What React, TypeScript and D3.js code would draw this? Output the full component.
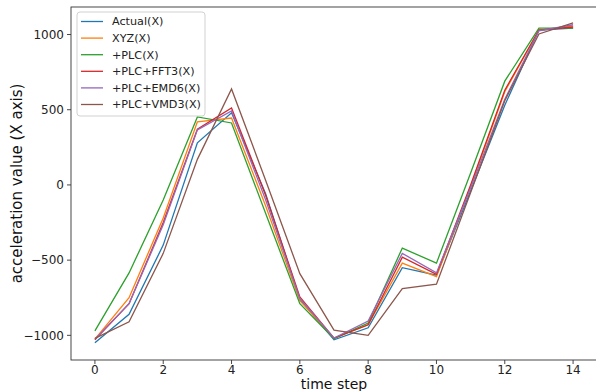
import React from 'react';
import * as d3 from 'd3';

const steps = [0, 1, 2, 3, 4, 5, 6, 7, 8, 9, 10, 11, 12, 13, 14];
const seriesNames = ['Actual(X)', 'XYZ(X)', '+PLC(X)', '+PLC+FFT3(X)', '+PLC+EMD6(X)', '+PLC+VMD3(X)'];
const seriesColors = ['#1f77b4', '#ff7f0e', '#2ca02c', '#d62728', '#9467bd', '#8c564b'];

const actual = [-1050, -860, -400, 280, 480, -60, -760, -1030, -950, -550, -600, -40, 530, 1030, 1043];
const xyz = [-1025, -750, -220, 420, 445, -140, -770, -1020, -930, -520, -610, -10, 620, 1030, 1057];
const plc = [-970, -585, -100, 452, 412, -190, -790, -1022, -918, -420, -520, 80, 690, 1043, 1043];
const fft3 = [-1030, -790, -250, 370, 512, -70, -745, -1018, -930, -480, -595, 0, 630, 1030, 1050];
const emd6 = [-1025, -790, -265, 366, 492, -100, -755, -1018, -905, -455, -585, -20, 570, 1025, 1065];
const vmd3 = [-1020, -910, -455, 170, 638, 30, -590, -965, -1000, -690, -660, -50, 560, 1004, 1077];

const seriesValues = [actual, xyz, plc, fft3, emd6, vmd3];

const xTicks = [0, 2, 4, 6, 8, 10, 12, 14];
const yTicks = [-1000, -500, 0, 500, 1000];

const W = 596;
const H = 391;
const margin = { left: 71, top: 7, right: 597, bottom: 360 };
const font = '"DejaVu Sans", sans-serif';

export default function App() {
  const x = d3.scaleLinear().domain([-0.7, 14.7]).range([margin.left, margin.right]);
  const y = d3.scaleLinear().domain([-1164, 1183]).range([margin.bottom, margin.top]);

  const line = d3
    .line<number>()
    .x((_, i) => x(steps[i]))
    .y((d) => y(d));

  return (
    <svg
      width={W}
      height={H}
      style={{ position: 'absolute', left: 0, top: 0, background: '#fff', fontFamily: font }}
    >
      <defs>
        <clipPath id="plot">
          <rect x={margin.left} y={margin.top} width={margin.right - margin.left} height={margin.bottom - margin.top} />
        </clipPath>
      </defs>

      {/* lines */}
      <g clipPath="url(#plot)">
        {seriesValues.map((vals, k) => (
          <path
            key={seriesNames[k]}
            d={line(vals) || ''}
            fill="none"
            stroke={seriesColors[k]}
            strokeWidth={1.3}
            strokeLinejoin="miter"
          />
        ))}
      </g>

      {/* spines */}
      <rect
        x={margin.left}
        y={margin.top}
        width={margin.right - margin.left}
        height={margin.bottom - margin.top}
        fill="none"
        stroke="#333"
        strokeWidth={0.9}
      />

      {/* x ticks */}
      {xTicks.map((t) => (
        <g key={'x' + t} transform={`translate(${x(t)},${margin.bottom})`}>
          <line y1={0} y2={4} stroke="#333" strokeWidth={0.9} />
          <text y={14} textAnchor="middle" fontSize={12} fill="#222">
            {t}
          </text>
        </g>
      ))}

      {/* y ticks */}
      {yTicks.map((t) => (
        <g key={'y' + t} transform={`translate(${margin.left},${y(t)})`}>
          <line x1={-4} x2={0} stroke="#333" strokeWidth={0.9} />
          <text x={-7} dy="0.35em" textAnchor="end" fontSize={12} fill="#222">
            {t < 0 ? '\u2212' + Math.abs(t) : t}
          </text>
        </g>
      ))}

      {/* axis labels */}
      <text x={(margin.left + margin.right) / 2} y={388.5} textAnchor="middle" fontSize={14} fill="#111">
        time step
      </text>
      <text
        transform={`translate(22,${(margin.top + margin.bottom) / 2}) rotate(-90)`}
        textAnchor="middle"
        fontSize={15}
        fill="#111"
      >
        acceleration value (X axis)
      </text>

      {/* legend */}
      <g transform="translate(77,12)">
        <rect width={128} height={104} rx={3} fill="#fff" fillOpacity={0.8} stroke="#ccc" strokeWidth={0.9} />
        {seriesNames.map((name, k) => (
          <g key={name} transform={`translate(0,${9.5 + k * 16.6})`}>
            <line x1={4} x2={26} stroke={seriesColors[k]} strokeWidth={1.3} />
            <text x={35} dy="0.35em" fontSize={11.2} fill="#222">
              {name}
            </text>
          </g>
        ))}
      </g>
    </svg>
  );
}
